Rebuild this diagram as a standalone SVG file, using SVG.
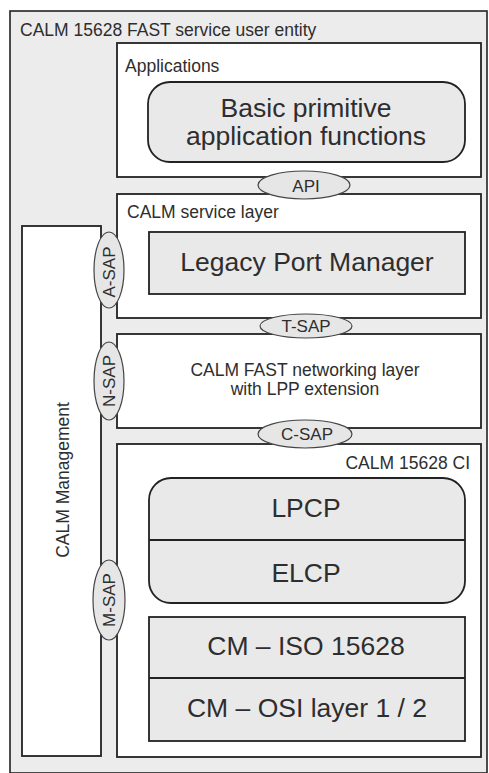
<svg xmlns="http://www.w3.org/2000/svg" width="489" height="773" viewBox="0 0 489 773">
<style>
text{font-family:"Liberation Sans",Arial,sans-serif;fill:#2e2e2e}
.box{fill:#ffffff;stroke:#222;stroke-width:1.8}
.inner{fill:#e9e9e9;stroke:#222;stroke-width:1.8}
.sap{fill:#e6e6e6;stroke:#444;stroke-width:1.2}
.lbl{font-size:17.5px}
.sapt{font-size:17px;text-anchor:middle}
.big{font-size:26.5px;text-anchor:middle}
</style>
<rect x="0" y="0" width="489" height="773" fill="#ffffff"/>
<g id="entity">
<rect x="10" y="11" width="477" height="762" fill="#ececec" stroke="#222" stroke-width="1.6"/>
<text x="20" y="36" class="lbl">CALM 15628 FAST service user entity</text>
</g>
<g id="management">
<rect class="box" x="22" y="226" width="79" height="530"/>
<text class="lbl" font-size="17" text-anchor="middle" transform="translate(69,480) rotate(-90)">CALM Management</text>
</g>
<g id="applications">
<rect class="box" x="117" y="43" width="364" height="134"/>
<text x="125" y="72" class="lbl">Applications</text>
</g>
<g id="basic-primitive">
<rect class="inner" x="148" y="82" width="317" height="80" rx="22" ry="22"/>
<text x="306" y="117" class="big">Basic primitive</text>
<text x="306" y="145" class="big">application functions</text>
</g>
<g id="service-layer">
<rect class="box" x="117" y="194" width="364" height="124"/>
<text x="127" y="218" class="lbl">CALM service layer</text>
</g>
<g id="legacy-port-manager">
<rect class="inner" x="149" y="232" width="316" height="62"/>
<text x="307" y="271" class="big">Legacy Port Manager</text>
</g>
<g id="networking-layer">
<rect class="box" x="117" y="334" width="364" height="94"/>
<text x="305" y="376" class="lbl" text-anchor="middle" font-size="16.5">CALM FAST networking layer</text>
<text x="305" y="395" class="lbl" text-anchor="middle" font-size="16.5">with LPP extension</text>
</g>
<g id="ci">
<rect class="box" x="117" y="444" width="364" height="313"/>
<text x="470" y="469" class="lbl" text-anchor="end">CALM 15628 CI</text>
</g>
<g id="lpcp-elcp">
<rect class="inner" x="149" y="478" width="316" height="125" rx="22" ry="22"/>
<line x1="149" y1="540" x2="465" y2="540" stroke="#222" stroke-width="1.8"/>
<text x="306" y="517" class="big">LPCP</text>
<text x="306" y="582" class="big">ELCP</text>
</g>
<g id="cm">
<rect class="inner" x="149" y="617" width="316" height="124"/>
<line x1="149" y1="678" x2="465" y2="678" stroke="#222" stroke-width="1.8"/>
<text x="306" y="655" class="big">CM – ISO 15628</text>
<text x="307" y="717" class="big">CM – OSI layer 1 / 2</text>
</g>
<g id="api">
<ellipse class="sap" cx="304" cy="185" rx="46" ry="14"/>
<text x="306" y="192" class="sapt" font-size="18.5">API</text>
</g>
<g id="t-sap">
<ellipse class="sap" cx="306" cy="326" rx="46" ry="12"/>
<text x="306" y="332" class="sapt">T-SAP</text>
</g>
<g id="c-sap">
<ellipse class="sap" cx="305" cy="434" rx="47" ry="14"/>
<text x="307" y="440" class="sapt">C-SAP</text>
</g>
<g id="a-sap">
<ellipse class="sap" cx="109" cy="270" rx="15" ry="38"/>
<text class="sapt" transform="translate(115,272) rotate(-90)">A-SAP</text>
</g>
<g id="n-sap">
<ellipse class="sap" cx="109" cy="381" rx="15" ry="39"/>
<text class="sapt" transform="translate(115,381) rotate(-90)">N-SAP</text>
</g>
<g id="m-sap">
<ellipse class="sap" cx="109" cy="600" rx="16" ry="40"/>
<text class="sapt" transform="translate(115,600) rotate(-90)">M-SAP</text>
</g>
<g id="connectors"></g>
</svg>
